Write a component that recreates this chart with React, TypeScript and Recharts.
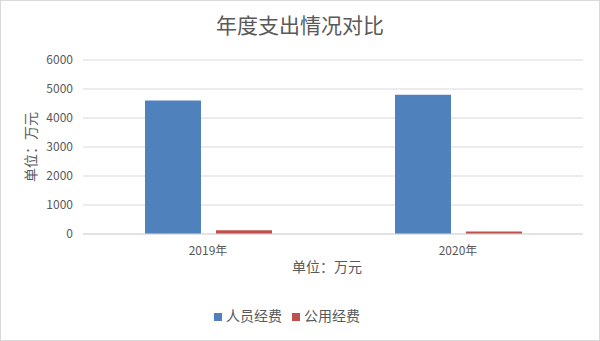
import { BarChart, Bar, XAxis, YAxis, CartesianGrid, Legend } from "recharts";

const years = ["2019年", "2020年"];
const staffCost = [4600, 4800];
const publicCost = [130, 90];
const yTicks = [0, 1000, 2000, 3000, 4000, 5000, 6000];

const data = years.map((year, i) => ({
  year,
  staff: staffCost[i],
  office: publicCost[i],
}));

const font = '"Noto Sans CJK SC", "Microsoft YaHei", sans-serif';
const textColor = "#595959";

export default function App() {
  return (
    <div
      style={{
        position: "fixed",
        left: 0,
        top: 0,
        width: 598,
        height: 339,
        border: "1px solid #d9d9d9",
        background: "#fff",
        fontFamily: font,
      }}
    >
      <div
        style={{
          position: "absolute",
          top: 9,
          width: "100%",
          textAlign: "center",
          fontSize: 21,
          color: textColor,
          lineHeight: "28px",
        }}
      >
        年度支出情况对比
      </div>
      <BarChart
        width={598}
        height={339}
        data={data}
        margin={{ top: 59, right: 16, left: 0, bottom: 56 }}
        barCategoryGap={62}
        barGap={15}
      >
        <CartesianGrid vertical={false} stroke="#d9d9d9" />
        <XAxis
          dataKey="year"
          axisLine={{ stroke: "#d9d9d9" }}
          tickLine={false}
          tickMargin={6}
          height={30}
          tick={{ fontSize: 12, fill: textColor, fontFamily: font }}
          label={{
            value: "单位：万元",
            position: "bottom",
            offset: -2,
            dx: -6,
            style: { fontSize: 14, fill: textColor, fontFamily: font },
          }}
        />
        <YAxis
          width={82}
          domain={[0, 6000]}
          ticks={yTicks}
          axisLine={false}
          tickLine={false}
          tickMargin={4}
          tick={{ fontSize: 12, fill: textColor, fontFamily: font }}
          label={{
            value: "单位：万元",
            angle: -90,
            position: "insideLeft",
            offset: 30,
            style: { fontSize: 14, fill: textColor, fontFamily: font, textAnchor: "middle" },
          }}
        />
        <Legend
          verticalAlign="bottom"
          iconType="square"
          iconSize={8}
          wrapperStyle={{ top: 304, fontSize: 14, fontFamily: font }}
          formatter={(v) => <span style={{ color: textColor }}>{v}</span>}
        />
        <Bar dataKey="staff" name="人员经费" fill="#4f81bd" isAnimationActive={false} />
        <Bar dataKey="office" name="公用经费" fill="#c0504d" isAnimationActive={false} />
      </BarChart>
    </div>
  );
}
